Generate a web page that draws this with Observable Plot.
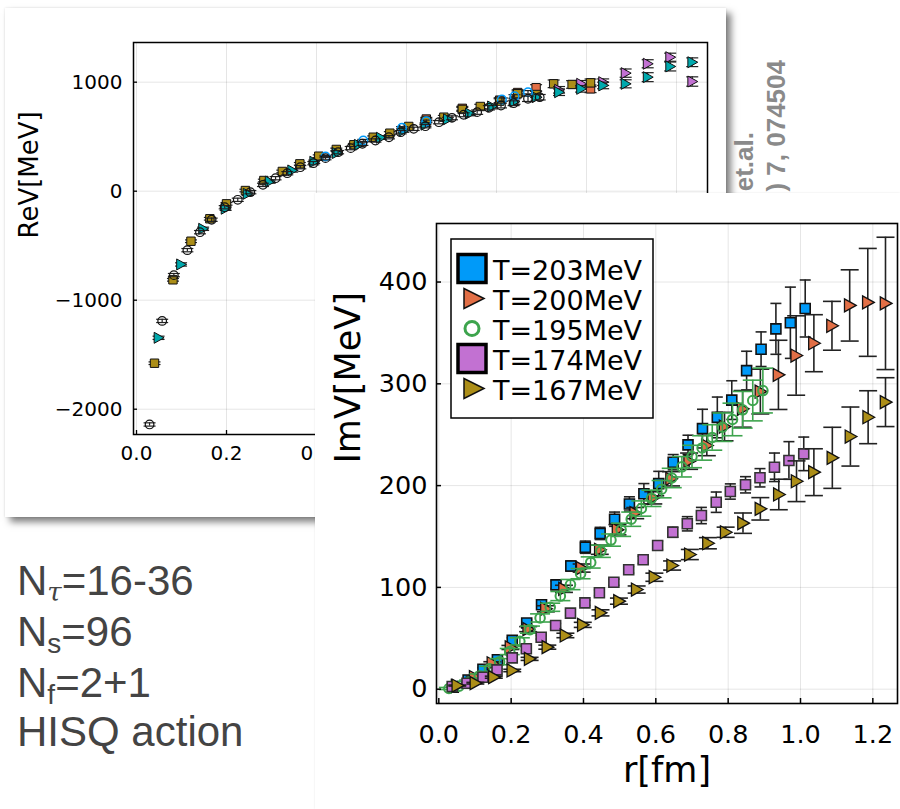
<!DOCTYPE html>
<html><head><meta charset="utf-8">
<script src="https://cdn.jsdelivr.net/npm/d3@7"></script>
<script src="https://cdn.jsdelivr.net/npm/@observablehq/plot@0.6"></script>
<style>
html,body{margin:0;padding:0;background:#fff;}
#page{position:relative;width:900px;height:809px;overflow:hidden;background:#fff;}
#backcard{position:absolute;left:5px;top:8px;width:721px;height:509px;background:#fff;box-shadow:5px 5px 7px rgba(0,0,0,0.5),0 0 2px rgba(0,0,0,0.12);}
#frontcard{position:absolute;left:315px;top:193px;width:585px;height:616px;background:#fff;box-shadow:0 0 2px rgba(0,0,0,0.10);}
#backcard svg,#frontcard svg{display:block;}
#overlay{position:absolute;left:0;top:0;}
svg{overflow:visible;}
</style></head>
<body><div id="page"><div id="backcard"></div><svg id="overlay" width="900" height="809"></svg><div id="frontcard"></div></div>
<script>
// ---------------- Front plot: Im V ----------------
const tempLabels = ["T=203MeV","T=200MeV","T=195MeV","T=174MeV","T=167MeV"];
const seriesColors = ["#009AF9","#E26F46","#3DA44D","#C271D2","#AC8E18"];

const r203 = [0.040,0.081,0.122,0.162,0.203,0.243,0.284,0.324,0.365,0.405,0.446,0.486,0.527,0.567,0.608,0.648,0.689,0.729,0.770,0.810,0.851,0.891,0.932,0.972,1.013];
const im203 = [2,9,19.6,29,48,65,83,102.5,121,139.5,153,167,182,192,202,223,240,256,267,284,313,334,354,360,374];
const err203 = [0.5,1,1.5,2,2.5,3,3.5,4,5,6,6,7,7,10,12,7.5,9.5,19,20,19,19,17,25,35,28];

const r200 = [0.049,0.099,0.148,0.198,0.247,0.296,0.346,0.395,0.445,0.494,0.543,0.593,0.642,0.692,0.741,0.790,0.840,0.889,0.939,0.988,1.037,1.087,1.136,1.186,1.235];
const im200 = [3,12,25.5,41,59,79,98.6,119,137,156.6,173,188,206.7,224,239.4,258,275.4,292.4,308.8,327.8,339.9,357,377,380,379];
const err200 = [0.5,1,1.5,2,2.5,3,3.5,4,4.5,5,5.5,6,7,8,10,14,18,22,34,39,28,24,35,53,65];

const r195 = [0.028,0.056,0.084,0.112,0.140,0.168,0.196,0.224,0.252,0.280,0.308,0.336,0.364,0.392,0.420,0.448,0.476,0.504,0.532,0.560,0.588,0.616,0.644,0.672,0.700,0.728,0.756,0.784,0.812,0.840,0.868,0.896];
const im195 = [0.7,3,7,13,20,27,37,47,58.5,70,80.5,91.5,102.8,113.5,124.5,135.5,146.5,156.6,167,177.5,187.5,196.5,207.5,218.5,228.6,237,247.3,257.4,265,274.5,283.6,293.4];
const err195 = [1,1.5,2,2,2.5,3,3,3.5,3.5,4,4,4.5,5,5,5.5,6,6,6.5,7,7.5,8,8.5,9.5,10,11,12,12.5,14,16,18,20,22];

const r174 = [0.037,0.078,0.122,0.161,0.203,0.242,0.283,0.323,0.364,0.404,0.444,0.484,0.525,0.565,0.605,0.647,0.687,0.726,0.767,0.806,0.848,0.888,0.928,0.968,1.009];
const im174 = [2.7,5.9,11.8,19,30.8,39.7,51,62.6,74.7,84.8,94.7,105.1,117.3,127.1,141.2,154.2,162.5,170.6,183.7,194.2,200.8,207.7,218,224.7,231.2];
const err174 = [0.3,0.5,0.8,1,1.2,1.5,1.8,2,2.2,2.5,2.8,3,3.2,3.5,4,5,7,8,10,7.5,8,9,14,18.5,16.5];

const r167 = [0.051,0.101,0.152,0.203,0.251,0.300,0.350,0.398,0.447,0.498,0.547,0.596,0.645,0.694,0.744,0.793,0.841,0.889,0.940,0.989,1.037,1.088,1.138,1.187,1.235];
const im167 = [3.6,5.9,11.8,18.4,29.8,41.3,52.8,63.2,75,86.5,97.9,110,121.5,132.3,143.4,154.2,163.1,177.2,191.3,204.3,213.2,227.3,248.2,267.2,282];
const err167 = [0.5,0.8,1,1.2,1.5,2,2.2,2.5,3,3,3.5,4,4.5,5,5.5,5,10,11,15,20,23,30,29,26,24];

const xTicks = [0,0.2,0.4,0.6,0.8,1.0,1.2];
const imTicks = [0,100,200,300,400];
const reTicks = [-2000,-1000,0,1000];

// ---------------- Back plot: Re V ----------------
const reCircR = [0.029,0.057,0.083,0.113,0.141,0.167,0.196,0.225,0.253,0.281,0.309,0.335,0.364,0.393,0.420,0.448,0.476,0.502,0.531,0.561,0.587,0.616,0.642,0.672,0.701,0.727,0.757,0.783,0.810,0.838,0.870,0.896];
const reCircV = [-2140,-1190,-770,-541,-376,-262,-147,-79,-9,58,119,165,220,257,303,358,395,435,465,495,541,572,596,633,673,701,725,765,786,807,848,862];
const reCircE = [15,15,15,15,15,15,15,15,15,15,15,15,15,15,15,15,15,15,15,15,15,15,15,15,18,18,20,20,22,22,25,25];

const reTriR = [0.049,0.099,0.148,0.198,0.247,0.296,0.346,0.395,0.445,0.494,0.543,0.593,0.642,0.692,0.741,0.790,0.840,0.889,0.939,0.988,1.037,1.087,1.136,1.186,1.235];
const reTriV = [-1345,-672,-345,-161,-24,88,190,270,350,425,490,555,610,660,712,777,822,862,908,939,970,985,1046,1144,1183];
const reTriE = [15,15,15,15,15,15,15,15,15,15,15,15,15,18,20,22,25,28,30,30,30,37,41,41,40];

const reSqR = [0.040,0.081,0.121,0.163,0.200,0.242,0.283,0.324,0.363,0.405,0.444,0.483,0.526,0.563,0.605,0.644,0.683,0.724,0.764,0.807,0.847,0.888,0.927,0.968,1.009];
const reSqV = [-1578,-813,-459,-253,-116,6,98,181,251,321,383,426,495,532,594,649,679,750,777,826,894,887,985,979,994];
const reSqE = [12,12,12,12,12,12,12,12,12,12,12,12,12,14,14,15,16,18,20,22,25,28,35,35,35];

const reOrR = [0.644,0.724,0.807,0.847,0.888,1.009];
const reOrV = [662,760,835,905,949,939];
const reOrE = [15,18,22,25,28,35];

const rePuR = [0.939,0.988,1.037,1.087,1.136,1.186,1.235];
const rePuV = [930,985,1000,1083,1169,1229,1006];
const rePuE = [30,30,30,38,37,37,43];

const reBlR = [0.420,0.504,0.590,0.644,0.812,0.840,0.870];
const reBlV = [318,465,582,640,840,870,908];
const reBlE = [10,10,10,12,15,15,15];

const reColors = {olive:"#AC8E18", teal:"#00A9AD", orange:"#E26F46", purple:"#C271D2", blue:"#009AF9", black:"#111111"};

const paramLines = [["N","τ","=16-36"],["N","s","=96"],["N","f","=2+1"],["HISQ action","",""]];
const citeLines = ["et.al.", ") 7, 074504"];

// ---------------- helpers ----------------
const rad = s => Math.sqrt(s / Math.PI);
const capSym = {draw(c, s){const r = rad(s); c.moveTo(-r,0); c.lineTo(r,0);}};
const sqSym = {draw(c, s){const r = rad(s); c.moveTo(-r,-r); c.lineTo(r,-r); c.lineTo(r,r); c.lineTo(-r,r); c.closePath();}};
const rtriSym = {draw(c, s){const r = rad(s); c.moveTo(r,0); c.lineTo(-0.8*r,-r); c.lineTo(-0.8*r,r); c.closePath();}};
const circSym = {draw(c, s){const r = rad(s); c.moveTo(r,0); c.arc(0,0,r,0,2*Math.PI); c.closePath();}};

const zipData = (R, V, E) => R.map((r, i) => ({r, v: V[i], e: E[i]}));

function seriesMarks(data, o) {
  return [
    Plot.ruleX(data, {x: "r", y1: d => d.v - d.e, y2: d => d.v + d.e, stroke: o.bar, strokeWidth: o.bw}),
    Plot.dot(data, {x: "r", y: d => d.v + d.e, symbol: capSym, r: o.cap, stroke: o.bar, strokeWidth: o.bw, fill: "none"}),
    Plot.dot(data, {x: "r", y: d => d.v - d.e, symbol: capSym, r: o.cap, stroke: o.bar, strokeWidth: o.bw, fill: "none"}),
    Plot.dot(data, {x: "r", y: "v", symbol: o.sym, r: o.r, fill: o.fill, stroke: o.stroke, strokeWidth: o.sw})
  ];
}

// ---------------- back plot ----------------
const reFmt = d => d < 0 ? "\u2212" + Math.abs(d) : String(d);
const back = Plot.plot({
  width: 721, height: 509,
  marginLeft: 128, marginRight: 19, marginTop: 34, marginBottom: 83,
  x: {domain: [-0.0067, 1.2689]},
  y: {domain: [-2232, 1364]},
  style: {background: "transparent", fontFamily: "DejaVu Sans", color: "black", overflow: "visible"},
  marks: [
    Plot.gridX(xTicks, {strokeOpacity: 0.1, strokeWidth: 1}),
    Plot.gridY(reTicks, {strokeOpacity: 0.1, strokeWidth: 1}),
    ...seriesMarks(zipData(reOrR, reOrV, reOrE), {bar:"#222", bw:1.2, cap:6, sym:sqSym, r:4.2, fill:reColors.orange, stroke:"#111", sw:1}),
    ...seriesMarks(zipData(reSqR, reSqV, reSqE), {bar:"#222", bw:1.2, cap:6, sym:sqSym, r:4.2, fill:reColors.olive, stroke:"#111", sw:1}),
    ...seriesMarks(zipData(rePuR, rePuV, rePuE), {bar:"#222", bw:1.2, cap:6, sym:rtriSym, r:5.5, fill:reColors.purple, stroke:"#111", sw:1}),
    ...seriesMarks(zipData(reTriR, reTriV, reTriE), {bar:"#222", bw:1.2, cap:6, sym:rtriSym, r:5.5, fill:reColors.teal, stroke:"#111", sw:1}),
    ...seriesMarks(zipData(reBlR, reBlV, reBlE), {bar:"#222", bw:1.2, cap:6, sym:circSym, r:4.3, fill:"none", stroke:reColors.blue, sw:1.5}),
    ...seriesMarks(zipData(reCircR, reCircV, reCircE), {bar:"#222", bw:1.2, cap:6, sym:circSym, r:4.3, fill:"none", stroke:reColors.black, sw:1.2}),
    Plot.frame({stroke: "black", strokeWidth: 1.5}),
    Plot.axisX(xTicks, {tickSize: -4, tickPadding: 15, strokeWidth: 1.3, fontSize: 20, tickFormat: d3.format(".1f"), label: null}),
    Plot.axisY(reTicks, {tickSize: -4, tickPadding: 15, strokeWidth: 1.3, fontSize: 20, tickFormat: reFmt, label: null}),
    Plot.text(["ReV[MeV]"], {text: d => d, frameAnchor: "left", dx: -104, rotate: -90, fontSize: 26})
  ]
});
document.getElementById("backcard").appendChild(back);

// ---------------- front plot ----------------
const front = Plot.plot({
  width: 585, height: 616,
  marginLeft: 121, marginRight: 3, marginTop: 30, marginBottom: 106,
  x: {domain: [-0.0064, 1.2682]},
  y: {domain: [-14.05, 457.5]},
  style: {background: "transparent", fontFamily: "DejaVu Sans", color: "black", overflow: "visible"},
  marks: [
    Plot.gridX(xTicks, {strokeOpacity: 0.1, strokeWidth: 1}),
    Plot.gridY(imTicks, {strokeOpacity: 0.1, strokeWidth: 1}),
    ...seriesMarks(zipData(r203, im203, err203), {bar:"#222", bw:1.6, cap:5.5, sym:sqSym, r:5, fill:seriesColors[0], stroke:"#111", sw:1.6}),
    ...seriesMarks(zipData(r200, im200, err200), {bar:"#222", bw:1.6, cap:9, sym:rtriSym, r:6.5, fill:seriesColors[1], stroke:"#111", sw:1.3}),
    ...seriesMarks(zipData(r195, im195, err195), {bar:seriesColors[2], bw:1.6, cap:10, sym:circSym, r:4.8, fill:"none", stroke:seriesColors[2], sw:2}),
    ...seriesMarks(zipData(r174, im174, err174), {bar:"#222", bw:1.6, cap:5.5, sym:sqSym, r:5, fill:seriesColors[3], stroke:"#333", sw:1.6}),
    ...seriesMarks(zipData(r167, im167, err167), {bar:"#222", bw:1.6, cap:9, sym:rtriSym, r:6.5, fill:seriesColors[4], stroke:"#111", sw:1.3}),
    Plot.frame({stroke: "black", strokeWidth: 1.6}),
    Plot.axisX(xTicks, {tickSize: -5, tickPadding: 26, strokeWidth: 1.5, fontSize: 25.5, tickFormat: d3.format(".1f"), label: null}),
    Plot.axisY(imTicks, {tickSize: -5, tickPadding: 14, strokeWidth: 1.5, fontSize: 25.5, label: null}),
    Plot.text(["ImV[MeV]"], {text: d => d, frameAnchor: "left", dx: -88, rotate: -90, fontSize: 35}),
    Plot.text(["r[fm]"], {text: d => d, frameAnchor: "bottom", dy: 78, fontSize: 35})
  ]
});
document.getElementById("frontcard").appendChild(front);

// legend inside the front plot
const lg = d3.select(front).append("g").attr("font-family", "DejaVu Sans").attr("text-anchor", "start");
lg.append("rect").attr("x", 136).attr("y", 46).attr("width", 202).attr("height", 179)
  .attr("fill", "white").attr("stroke", "black").attr("stroke-width", 1.5);
const legendSyms = ["bigsq", "tri", "circ", "bigsq", "tri"];
tempLabels.forEach((lab, i) => {
  const cy = 75.5 + i * 30, cx = 157;
  const g = lg.append("g").attr("transform", `translate(${cx},${cy})`);
  const kind = legendSyms[i];
  if (kind === "bigsq") {
    g.append("rect").attr("x", -14).attr("y", -14).attr("width", 28).attr("height", 28)
      .attr("fill", seriesColors[i]).attr("stroke", "black").attr("stroke-width", 3.5);
  } else if (kind === "tri") {
    g.append("path").attr("d", "M12,0L-8,-10L-8,10Z").attr("fill", seriesColors[i])
      .attr("stroke", "#111").attr("stroke-width", 1.5);
  } else {
    g.append("circle").attr("r", 7).attr("fill", "none").attr("stroke", seriesColors[i]).attr("stroke-width", 3);
  }
  lg.append("text").attr("x", 178).attr("y", cy + 11).attr("text-anchor", "start")
    .attr("font-size", 27).attr("fill", "black").text(lab);
});

// overlay texts
const ov = d3.select("#overlay");
const citeX = [753, 785], citeY = [132, 60];
citeLines.forEach((t, i) => {
  ov.append("text").attr("transform", `translate(${citeX[i]},${citeY[i]}) rotate(-90)`)
    .attr("text-anchor", "end").attr("font-family", "Liberation Sans").attr("font-weight", "bold")
    .attr("font-size", 26).attr("fill", "#8a8a8a").text(t);
});
const baseY = [595, 646, 697, 746];
paramLines.forEach((p, i) => {
  const t = ov.append("text").attr("x", 17).attr("y", baseY[i]).attr("font-family", "Liberation Sans")
    .attr("font-size", 42).attr("fill", "#444");
  t.append("tspan").text(p[0]);
  if (p[1]) {
    const sub = t.append("tspan").attr("dy", i === 0 ? 6 : 7).attr("font-size", i === 0 ? 26 : 28).text(p[1]);
    if (i === 0) sub.attr("font-family", "DejaVu Serif").attr("font-style", "italic");
    t.append("tspan").attr("dy", i === 0 ? -6 : -7).text(p[2]);
  }
});
</script></body></html>
